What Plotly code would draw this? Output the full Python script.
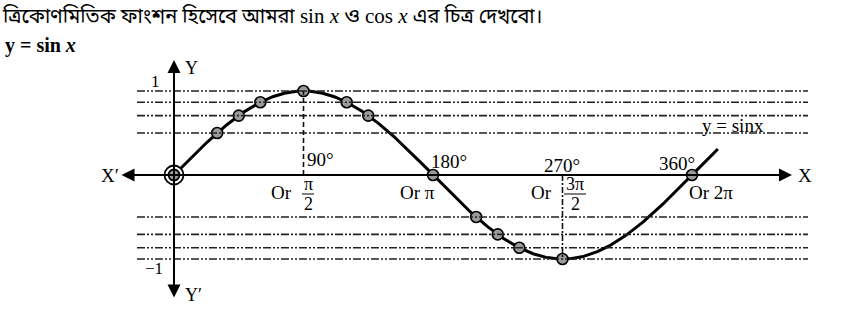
import numpy as np
import plotly.graph_objects as go

# ---- data ----
curve_deg = np.linspace(0, 378, 400)
curve_val = np.sin(np.radians(curve_deg))  # y = sin x
pt_deg = [30, 45, 60, 90, 120, 135, 180, 210, 225, 240, 270, 360]
pt_val = [0.5, 0.707, 0.866, 1.0, 0.866, 0.707, 0.0, -0.5, -0.707, -0.866, -1.0, 0.0]
guide_levels = [1.0, 0.866, 0.707, 0.5, -0.5, -0.707, -0.866, -1.0]
deg_labels = ["90°", "180°", "270°", "360°"]

W, H = 868, 314
X0, Y0 = 174, 175
SX = 129.5 / 90
SY = 84


def dx(px):
    return (px - X0) / SX


def dy(py):
    return (Y0 - py) / SY


fig = go.Figure()

# guide lines
guide_dash = "8px,2px,2px,2px,2px,2px"
for lv in guide_levels:
    fig.add_shape(type="line", x0=dx(137), x1=dx(808), y0=lv, y1=lv,
                  line=dict(color="#222", width=1.6, dash=guide_dash))

# vertical drop lines
fig.add_shape(type="line", x0=90, x1=90, y0=0, y1=1,
              line=dict(color="#111", width=1.6, dash="5px,3px"))
fig.add_shape(type="line", x0=270, x1=270, y0=0, y1=-1,
              line=dict(color="#111", width=1.6, dash="6px,2px,2px,2px"))

# axes with arrows
fig.add_annotation(x=dx(792), y=0, ax=dx(120), ay=0, xref="x", yref="y", axref="x", ayref="y",
                   text="", showarrow=True, arrowhead=2, startarrowhead=2, arrowside="end+start",
                   arrowsize=1.3, arrowwidth=2, arrowcolor="black")
fig.add_annotation(x=0, y=dy(60), ax=0, ay=dy(299), xref="x", yref="y", axref="x", ayref="y",
                   text="", showarrow=True, arrowhead=2, startarrowhead=2, arrowside="end+start",
                   arrowsize=1.3, arrowwidth=2, arrowcolor="black")

# curve
fig.add_trace(go.Scatter(x=curve_deg, y=curve_val, mode="lines",
                         line=dict(color="black", width=3), hoverinfo="skip"))
# points
fig.add_trace(go.Scatter(x=pt_deg, y=pt_val, mode="markers",
                         marker=dict(size=11, color="#9a9a9a", line=dict(color="black", width=1.6))))
# origin double ring
fig.add_trace(go.Scatter(x=[0], y=[0], mode="markers",
                         marker=dict(size=19, color="white", line=dict(color="black", width=1.8))))
fig.add_trace(go.Scatter(x=[0], y=[0], mode="markers",
                         marker=dict(size=11, color="#9a9a9a", line=dict(color="black", width=1.8))))

serif = "Liberation Serif"


def label(px, py, text, size=19, anchor="center", family=serif):
    fig.add_annotation(x=px / W, y=1 - py / H, xref="paper", yref="paper", text=text,
                       showarrow=False, xanchor=anchor, yanchor="middle",
                       font=dict(family=family, size=size, color="black"))


title_txt = ('<span style="font-size:20px">ত্রিকোণমিতিক ফাংশন হিসেবে আমরা</span> '
             'sin <i>x</i> ও cos <i>x</i> '
             '<span style="font-size:20px">এর চিত্র দেখবো।</span>')
label(0, 16, title_txt, size=21, anchor="left",
      family="Liberation Serif, Noto Sans Bengali, Noto Sans, serif")
label(3, 46, "<b>y = sin <i>x</i></b>", size=20, anchor="left")

label(110, 175, "X′", size=19)
label(805, 175, "X", size=19)
label(191, 68, "Y", size=18)
label(193, 295, "Y′", size=18)
label(155, 82, "1", size=17)
label(154, 268, "−1", size=17)

label(305, 159, deg_labels[0], anchor="left")
label(449, 161, deg_labels[1])
label(562, 165, deg_labels[2])
label(677, 163, deg_labels[3])

label(294, 192, "Or", anchor="right")
label(302, 184, "π", size=18, anchor="left")
label(302, 204, "2", size=18, anchor="left")
fig.add_shape(type="line", xref="paper", yref="paper", x0=302 / W, x1=314 / W,
              y0=1 - 194 / H, y1=1 - 194 / H, line=dict(color="black", width=1))

label(417, 192, "Or π")

label(554, 192, "Or", anchor="right")
label(564, 184, "3π", size=18, anchor="left")
label(569, 204, "2", size=18, anchor="left")
fig.add_shape(type="line", xref="paper", yref="paper", x0=564 / W, x1=586 / W,
              y0=1 - 194 / H, y1=1 - 194 / H, line=dict(color="black", width=1))

label(711, 192, "Or 2π")
label(733, 125, "y = sinx", size=19)

fig.update_layout(
    width=W, height=H, autosize=False,
    margin=dict(l=0, r=0, t=0, b=0),
    paper_bgcolor="white", plot_bgcolor="white",
    showlegend=False,
    xaxis=dict(range=[dx(0), dx(W)], visible=False, fixedrange=True),
    yaxis=dict(range=[dy(H), dy(0)], visible=False, fixedrange=True),
)

fig.write_html("out.html")
